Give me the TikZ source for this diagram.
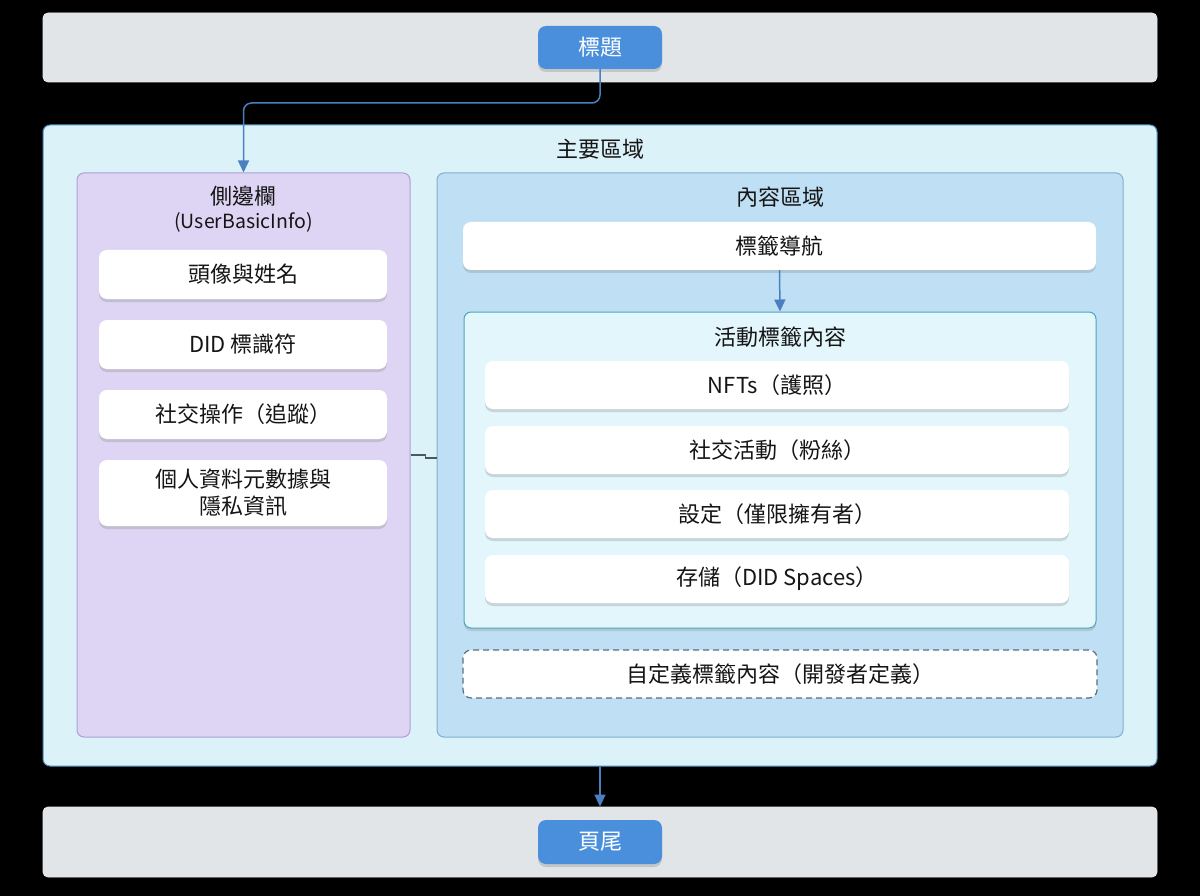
\documentclass[tikz,border=0pt]{standalone}
\usepackage{fontspec}
\setmainfont{Noto Sans CJK TC}
\usetikzlibrary{arrows.meta,shadows,calc}
\definecolor{bgblack}{HTML}{000000}
\definecolor{bargray}{HTML}{E1E5E8}
\definecolor{btnblue}{HTML}{4A8FDB}
\definecolor{mainfill}{HTML}{DCF2F9}
\definecolor{mainline}{HTML}{4F8FB8}
\definecolor{sidefill}{HTML}{DDD5F3}
\definecolor{sideline}{HTML}{ADA0D4}
\definecolor{contfill}{HTML}{BFE0F4}
\definecolor{contline}{HTML}{7FB0CE}
\definecolor{actfill}{HTML}{E3F6FB}
\definecolor{actline}{HTML}{4AA6B8}
\definecolor{arrcol}{HTML}{4A7FC0}
\definecolor{txt}{HTML}{151515}
\definecolor{dashcol}{HTML}{5A6E7E}
\tikzset{
  bar/.style={draw=white!85!gray, fill=bargray, rounded corners=5pt, line width=0.8pt},
  btn/.style={fill=btnblue, rounded corners=8pt, text=white, font=\fontsize{22}{24}\selectfont,
    drop shadow={opacity=0.3, shadow xshift=0pt, shadow yshift=-3pt}},
  container/.style={rounded corners=7pt, line width=1pt},
  wbox/.style={fill=white, rounded corners=8pt, text=txt, font=\fontsize{22}{27}\selectfont, align=center,
    drop shadow={opacity=0.28, shadow xshift=0pt, shadow yshift=-3pt}},
  ttl/.style={text=txt, font=\fontsize{22}{24}\selectfont},
  arr/.style={draw=arrcol, line width=1.5pt, -{Triangle[length=12pt,width=11pt]}},
}
\begin{document}
\begin{tikzpicture}[x=1pt,y=-1pt]
\fill[bgblack] (0,0) rectangle (1200,896);
\useasboundingbox (0,0) rectangle (1200,896);
% header
\node[bar, minimum width=1114pt, minimum height=69pt] (header) at (600,47.5) {};
\node[btn, minimum width=124pt, minimum height=43pt] (hbtn) at (600,47.5) {標題};
% main
\node[container, draw=mainline, fill=mainfill, minimum width=1114pt, minimum height=641pt] (main) at (600,445.5) {};
\node[ttl] (maint) at (600,149) {主要區域};
% sidebar
\node[container, draw=sideline, fill=sidefill, minimum width=333pt, minimum height=564pt] (side) at (243.5,455) {};
\node[ttl] (sidet) at (243.5,196) {側邊欄};
\node[text=txt, font=\fontsize{19.5}{22}\selectfont] (sidet2) at (243.5,222) {(UserBasicInfo)};
\node[wbox, minimum width=288pt, minimum height=49pt] (s1) at (243,274.5) {頭像與姓名};
\node[wbox, minimum width=288pt, minimum height=49pt] (s2) at (243,344.5) {DID 標識符};
\node[wbox, minimum width=288pt, minimum height=49pt] (s3) at (243,414.5) {社交操作（追蹤）};
\node[wbox, minimum width=288pt, minimum height=66pt] (s4) at (243,493) {個人資料元數據與\\隱私資訊};
% content
\node[container, draw=contline, fill=contfill, minimum width=686pt, minimum height=564pt] (cont) at (780,455) {};
\node[ttl] (contt) at (780,197) {內容區域};
\node[wbox, minimum width=633pt, minimum height=48pt] (tabnav) at (779.5,246) {標籤導航};
% active tab
\node[container, draw=actline, fill=actfill, minimum width=632pt, minimum height=316pt,
  drop shadow={opacity=0.25, shadow xshift=0pt, shadow yshift=-3pt}] (act) at (780,470) {};
\node[ttl] (actt) at (780,337) {活動標籤內容};
\node[wbox, minimum width=584pt, minimum height=48pt] (a1) at (777,385) {NFTs（護照）};
\node[wbox, minimum width=584pt, minimum height=48pt] (a2) at (777,450) {社交活動（粉絲）};
\node[wbox, minimum width=584pt, minimum height=48pt] (a3) at (777,514) {設定（僅限擁有者）};
\node[wbox, minimum width=584pt, minimum height=48pt] (a4) at (777,579) {存儲（DID Spaces）};
% custom
\node[fill=white, draw=dashcol, dashed, dash pattern=on 6pt off 4pt, line width=1.2pt, rounded corners=8pt,
  text=txt, font=\fontsize{22}{24}\selectfont, minimum width=634pt, minimum height=48pt] (custom) at (780,674) {自定義標籤內容（開發者定義）};
% footer
\node[bar, minimum width=1114pt, minimum height=70pt] (footer) at (600,842) {};
\node[btn, minimum width=124pt, minimum height=44pt] (fbtn) at (600,842) {頁尾};
% connectors
\draw[arr, rounded corners=8pt] (hbtn.south) -- (hbtn.south |- 0,103) -| (side.north);
\draw[arr] (tabnav.south) -- (act.north);
\draw[arr] (main.south) -- (footer.north);
\draw[draw=dashcol!80!black, line width=1.2pt] (side.east) -- ++(15,0) -- ++(0,3) -- ($(cont.west)+(0,3)$);
\end{tikzpicture}
\end{document}
